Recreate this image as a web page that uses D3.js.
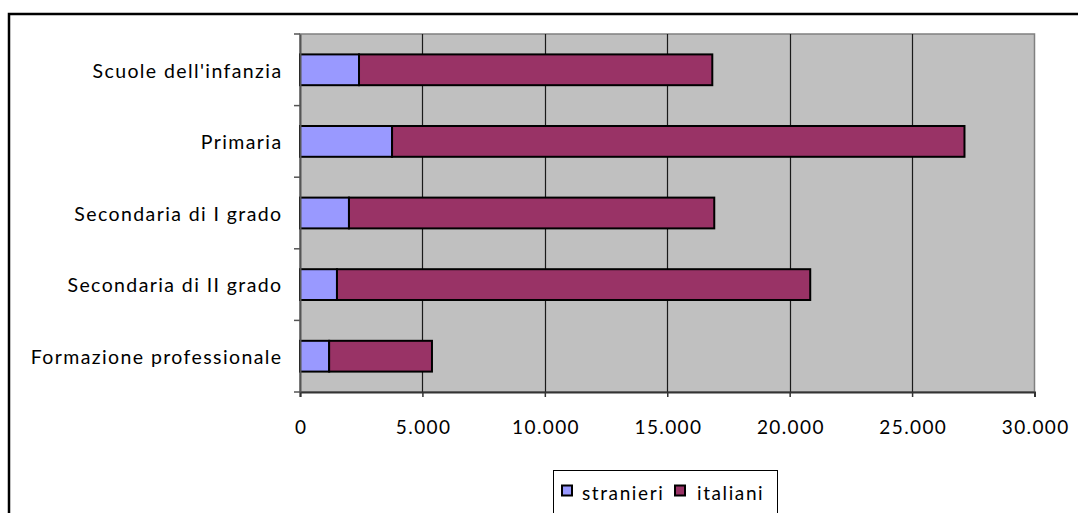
<!DOCTYPE html>
<html><head><meta charset="utf-8">
<script src="https://cdn.jsdelivr.net/npm/d3@7"></script>
<style>body{margin:0;background:#fff}svg{display:block}text{font-family:Lato,"Open Sans",sans-serif;fill:#000}</style>
</head><body><svg id="c" width="1078" height="513"></svg>
<script>
const categories = ["Scuole dell'infanzia","Primaria","Secondaria di I grado","Secondaria di II grado","Formazione professionale"];
const stranieri = [2410, 3760, 2000, 1510, 1190];
const italiani = [14430, 23380, 14920, 19330, 4200];
const seriesNames = ["stranieri","italiani"];
const seriesColors = ["#9999FF","#993366"];
const xTicks = [0,5000,10000,15000,20000,25000,30000];
const xTickLabels = ["0","5.000","10.000","15.000","20.000","25.000","30.000"];

const svg = d3.select("#c");
const L=300, R=1034.5, T=34, B=392;
svg.append("rect").attr("x",9).attr("y",14).attr("width",1200).attr("height",600).attr("fill","#fff").attr("stroke","#000").attr("stroke-width",2.5);

const x = d3.scaleLinear().domain([0,30000]).range([L,R]);
const y = d3.scaleBand().domain(categories).range([T,B]).paddingInner(0.57).paddingOuter(0.285);
const yb = d3.scaleBand().domain(categories).range([T,B]);

svg.append("rect").attr("x",L).attr("y",T).attr("width",R-L).attr("height",B-T).attr("fill","#C0C0C0").attr("stroke","#808080").attr("stroke-width",1.5);

svg.append("g").selectAll("line").data(xTicks.slice(1,-1)).join("line")
 .attr("x1",d=>Math.round(x(d))+0.5).attr("x2",d=>Math.round(x(d))+0.5).attr("y1",T).attr("y2",B).attr("stroke","#1a1a1a").attr("stroke-width",1.2);

const rows = categories.map((c,i)=>({c, v:[stranieri[i], italiani[i]]}));
const stack = d3.stack().keys([0,1]).value((d,k)=>d.v[k])(rows);
svg.append("g").selectAll("g").data(stack).join("g").attr("fill",(d,i)=>seriesColors[i])
 .selectAll("rect").data(d=>d).join("rect")
 .attr("x",d=>x(d[0])).attr("width",d=>x(d[1])-x(d[0]))
 .attr("y",d=>y(d.data.c)).attr("height",y.bandwidth())
 .attr("stroke","#000").attr("stroke-width",2);

// axes
const xa = svg.append("g").attr("transform",`translate(0,${B})`)
 .call(d3.axisBottom(x).tickValues(xTicks).tickFormat((d,i)=>xTickLabels[i]).tickSize(5).tickPadding(24));
xa.select(".domain").attr("stroke","#333").attr("stroke-width",2);
xa.selectAll(".tick line").attr("stroke","#333").attr("stroke-width",1.5);
xa.selectAll("text").attr("font-size",19).attr("font-family","Lato").attr("letter-spacing","1.4px").attr("dx","0.7").attr("fill","#000");

const ya = svg.append("g").attr("transform",`translate(${L},0)`)
 .call(d3.axisLeft(yb).tickSize(0).tickPadding(17.5));
ya.select(".domain").attr("stroke","#555").attr("stroke-width",2);
ya.selectAll("text").attr("font-size",19.5).attr("font-family","Lato").attr("letter-spacing","1.4px").attr("dy","0.4em").attr("fill","#000");
// boundary ticks
svg.append("g").selectAll("line").data(categories.concat(["_end"])).join("line")
 .attr("x1",L-6).attr("x2",L).attr("y1",(d,i)=>i<categories.length?yb(d):B).attr("y2",(d,i)=>i<categories.length?yb(d):B)
 .attr("stroke","#555").attr("stroke-width",1.5);

// legend
const lg = svg.append("g");
lg.append("rect").attr("x",553.5).attr("y",470.5).attr("width",224).attr("height",60).attr("fill","#fff").attr("stroke","#000").attr("stroke-width",1);
const lx=[562,675], tx=[582,697];
seriesNames.forEach((n,i)=>{
  lg.append("rect").attr("x",lx[i]).attr("y",485.5).attr("width",10).attr("height",10).attr("fill",seriesColors[i]).attr("stroke","#000").attr("stroke-width",2);
  lg.append("text").attr("x",tx[i]).attr("y",500).attr("font-size",19).attr("letter-spacing","1.6px").text(n);
});
</script></body></html>
